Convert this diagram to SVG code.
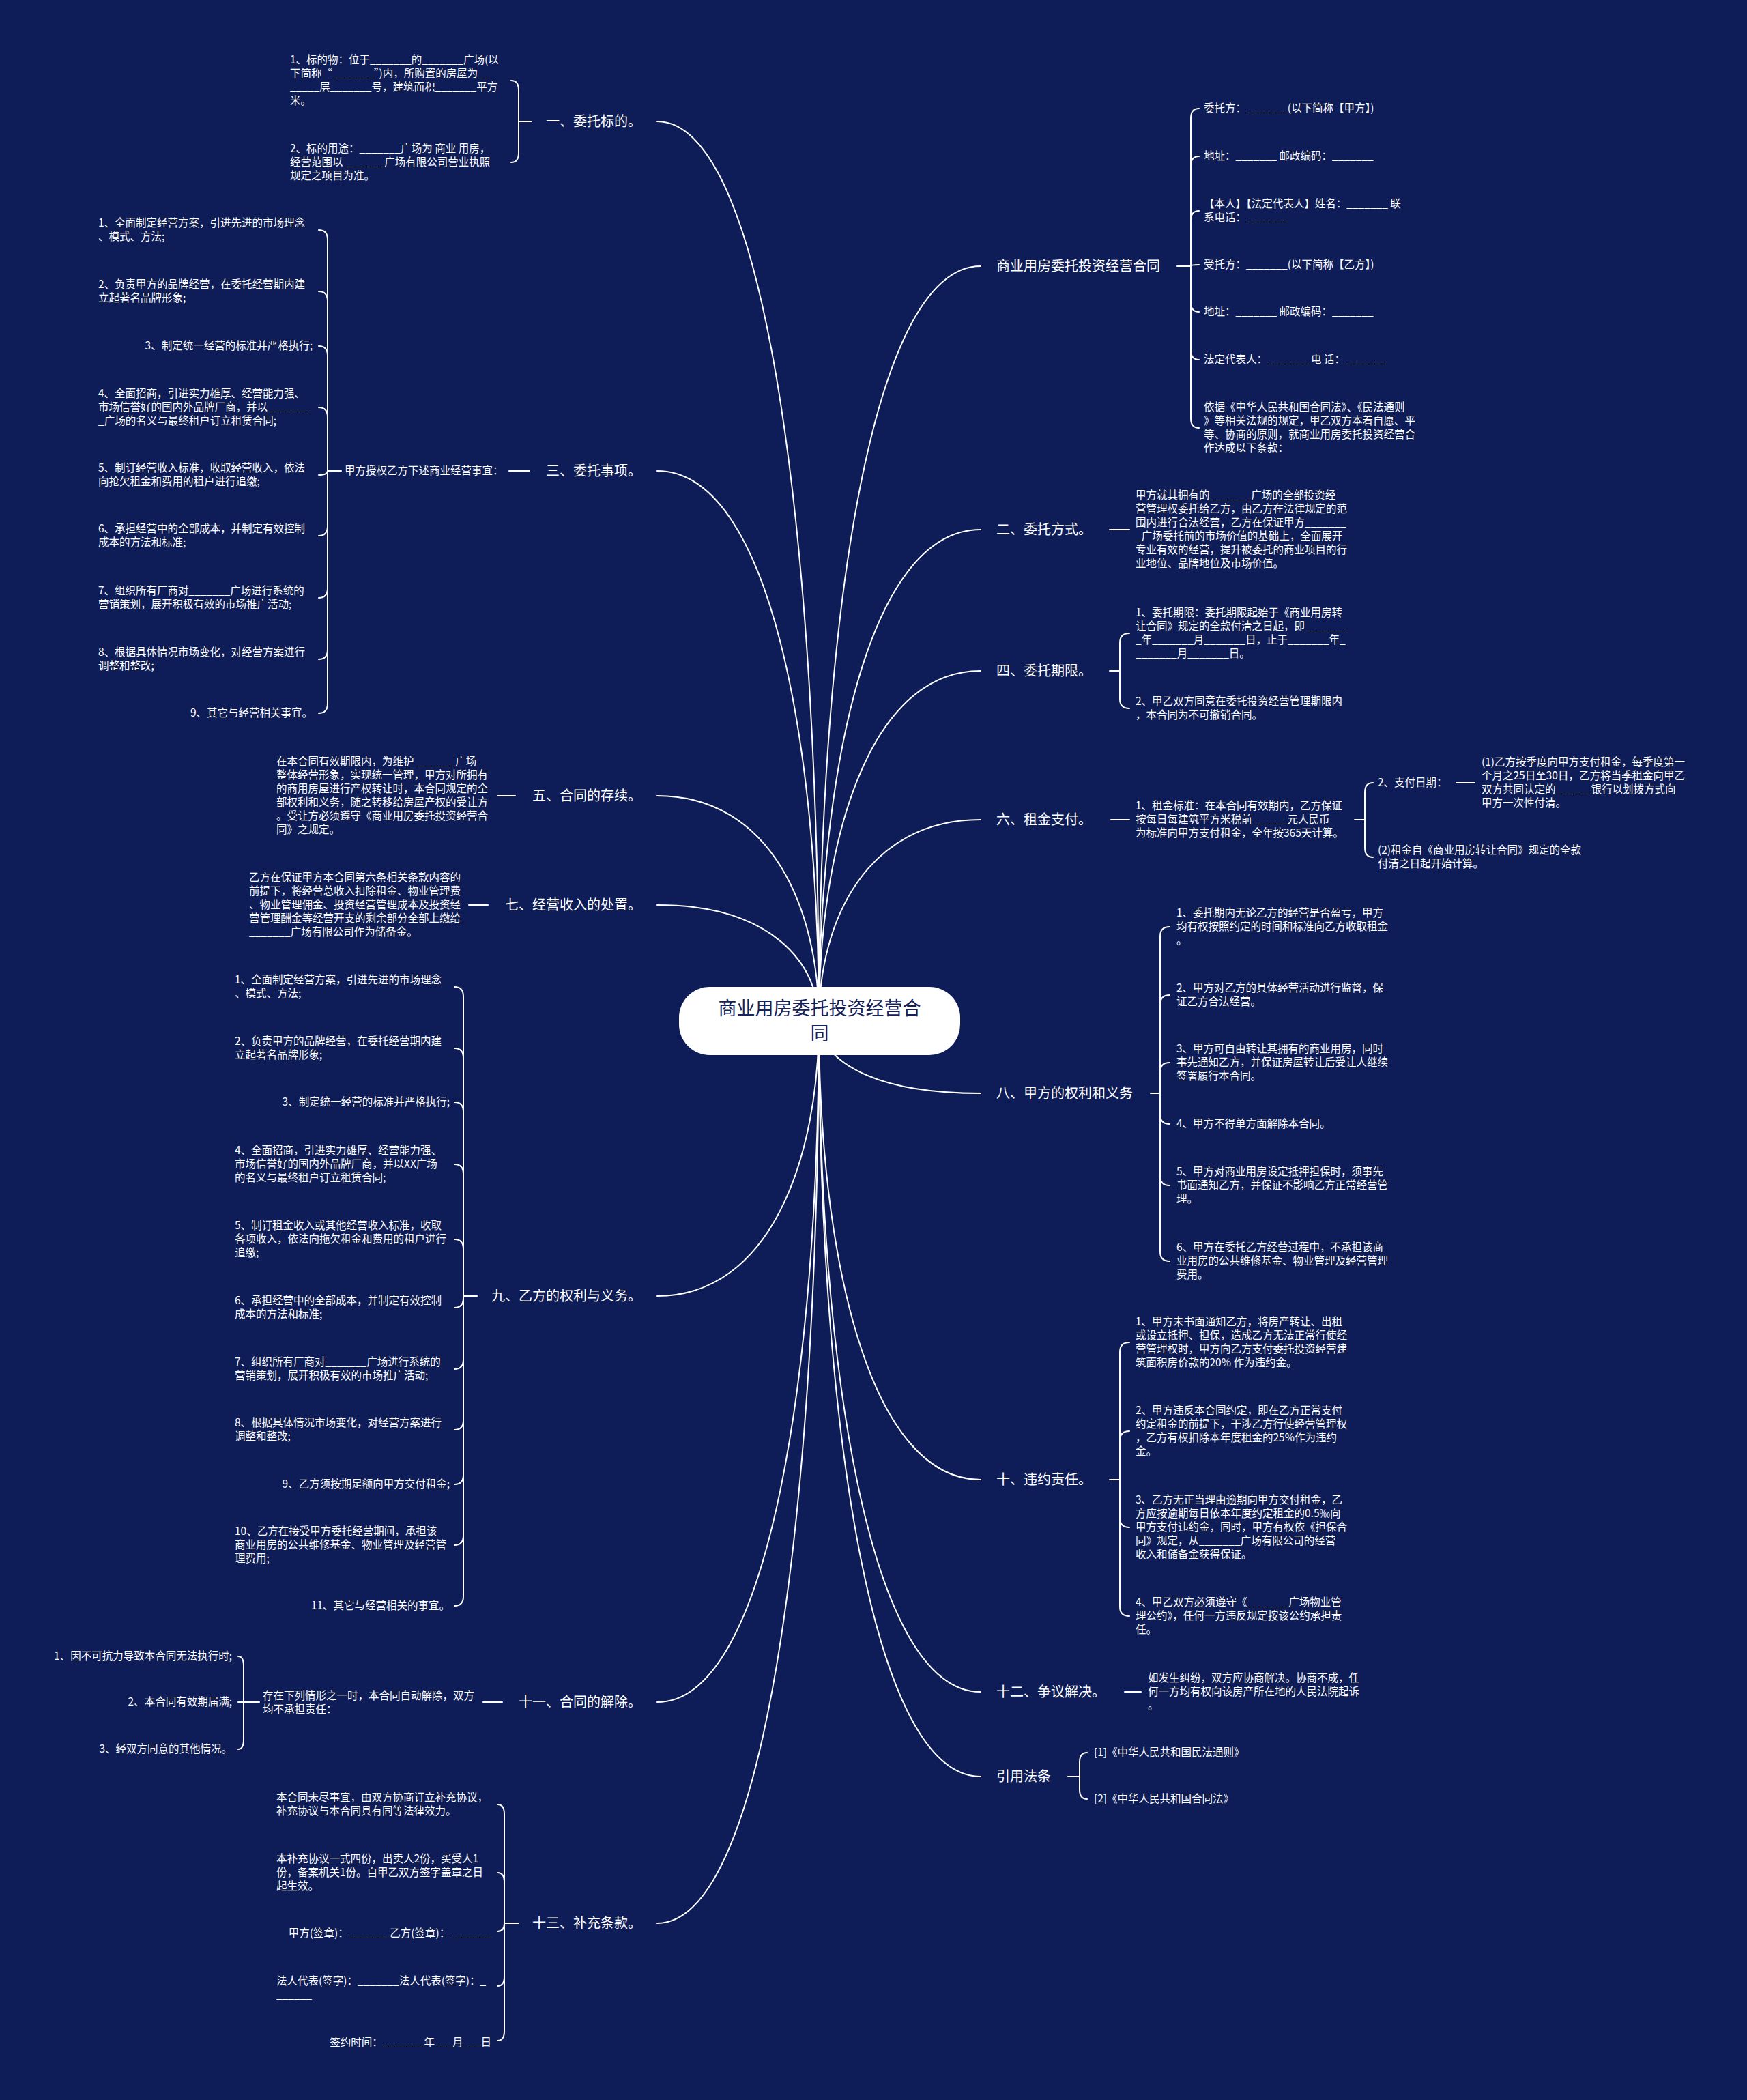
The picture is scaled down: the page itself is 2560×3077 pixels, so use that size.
<svg xmlns="http://www.w3.org/2000/svg" width="2560" height="3077" viewBox="0 0 2560 3077">
<defs>
<style>
.ln{fill:none;stroke:#ffffff;stroke-width:2;stroke-linecap:round}
.lbl{font-family:"Noto Sans CJK SC","Noto Sans",sans-serif;font-size:20px;fill:#ffffff}
.lf{font-family:"Noto Sans CJK SC","Noto Sans",sans-serif;font-size:15.5px;fill:#ffffff}
.e{text-anchor:end}
.root{font-family:"Noto Sans CJK SC","Noto Sans",sans-serif;font-size:27px;fill:#14215a;text-anchor:middle}
</style>
</defs>
<rect x="0" y="0" width="2560" height="3077" fill="#0e1d57"/>
<g id="connectors">
<path class="ln" d="M963,178 C1129,178 1200,837 1200,1496"/>
<path class="ln" d="M963,690 C1129,690 1200,1093 1200,1496"/>
<path class="ln" d="M963,1166 C1129,1166 1200,1331 1200,1496"/>
<path class="ln" d="M963,1326 C1129,1326 1200,1411 1200,1496"/>
<path class="ln" d="M963,1899 C1129,1899 1200,1697 1200,1496"/>
<path class="ln" d="M963,2494 C1129,2494 1200,1995 1200,1496"/>
<path class="ln" d="M963,2818 C1129,2818 1200,2157 1200,1496"/>
<path class="ln" d="M1437,390 C1271,390 1200,943 1200,1496"/>
<path class="ln" d="M1437,776 C1271,776 1200,1136 1200,1496"/>
<path class="ln" d="M1437,983 C1271,983 1200,1239 1200,1496"/>
<path class="ln" d="M1437,1201 C1271,1201 1200,1348 1200,1496"/>
<path class="ln" d="M1437,1602 C1271,1602 1200,1549 1200,1496"/>
<path class="ln" d="M1437,2168 C1271,2168 1200,1832 1200,1496"/>
<path class="ln" d="M1437,2479 C1271,2479 1200,1987 1200,1496"/>
<path class="ln" d="M1437,2603 C1271,2603 1200,2049 1200,1496"/>
<path class="ln" d="M779,178 H760 M760,178 V132 Q760,118 749,118 M760,178 V224 Q760,238 749,238"/>
<path class="ln" d="M746,690 H776"/>
<path class="ln" d="M500,690 H480 M480,690 V351 Q480,337 467,337 M480,690 V441 Q480,427 467,427 M480,690 V521 Q480,507 467,507 M480,690 V611 Q480,597 467,597 M480,690 Q480,696 467,696 M480,690 V771 Q480,785 467,785 M480,690 V862 Q480,876 467,876 M480,690 V952 Q480,966 467,966 M480,690 V1031 Q480,1045 467,1045"/>
<path class="ln" d="M729,1166 H755"/>
<path class="ln" d="M687,1326 H715"/>
<path class="ln" d="M699,1899 H679 M679,1899 V1460 Q679,1446 666,1446 M679,1899 V1550 Q679,1536 666,1536 M679,1899 V1629 Q679,1615 666,1615 M679,1899 V1720 Q679,1706 666,1706 M679,1899 V1830 Q679,1816 666,1816 M679,1899 V1902 Q679,1916 666,1916 M679,1899 V1992 Q679,2006 666,2006 M679,1899 V2081 Q679,2095 666,2095 M679,1899 V2161 Q679,2175 666,2175 M679,1899 V2250 Q679,2264 666,2264 M679,1899 V2339 Q679,2353 666,2353"/>
<path class="ln" d="M708,2494 H736"/>
<path class="ln" d="M380,2494 H357 M357,2494 V2441 Q357,2427 349,2427 M357,2494 H349 M357,2494 V2549 Q357,2563 349,2563"/>
<path class="ln" d="M760,2818 H739 M739,2818 V2658 Q739,2644 729,2644 M739,2818 V2758 Q739,2744 729,2744 M739,2818 Q739,2830 729,2830 M739,2818 V2896 Q739,2910 729,2910 M739,2818 V2976 Q739,2990 729,2990"/>
<path class="ln" d="M1725,390 H1745 M1745,390 V173 Q1745,159 1757,159 M1745,390 V243 Q1745,229 1757,229 M1745,390 V323 Q1745,309 1757,309 M1745,390 Q1745,388 1757,388 M1745,390 V443 Q1745,457 1757,457 M1745,390 V513 Q1745,527 1757,527 M1745,390 V613 Q1745,627 1757,627"/>
<path class="ln" d="M1626,776 H1655"/>
<path class="ln" d="M1626,983 H1641 M1641,983 V942 Q1641,928 1655,928 M1641,983 V1024 Q1641,1038 1655,1038"/>
<path class="ln" d="M1628,1201 H1655"/>
<path class="ln" d="M1985,1201 H2000 M2000,1201 V1161 Q2000,1147 2012,1147 M2000,1201 V1242 Q2000,1256 2012,1256"/>
<path class="ln" d="M2134,1147 H2161"/>
<path class="ln" d="M1686,1602 H1700 M1700,1602 V1372 Q1700,1358 1714,1358 M1700,1602 V1472 Q1700,1458 1714,1458 M1700,1602 V1571 Q1700,1557 1714,1557 M1700,1602 V1633 Q1700,1647 1714,1647 M1700,1602 V1723 Q1700,1737 1714,1737 M1700,1602 V1834 Q1700,1848 1714,1848"/>
<path class="ln" d="M1626,2168 H1641 M1641,2168 V1981 Q1641,1967 1655,1967 M1641,2168 V2111 Q1641,2097 1655,2097 M1641,2168 V2224 Q1641,2238 1655,2238 M1641,2168 V2354 Q1641,2368 1655,2368"/>
<path class="ln" d="M1648,2479 H1672"/>
<path class="ln" d="M1565,2603 H1582 M1582,2603 V2582 Q1582,2568 1593,2568 M1582,2603 V2622 Q1582,2636 1593,2636"/>
</g>
<g id="root">
<rect x="995" y="1446" width="412" height="100" rx="45" ry="45" fill="#ffffff"/>
<text class="root"><tspan x="1201" y="1487">商业用房委托投资经营合</tspan><tspan x="1201" y="1524">同</tspan></text>
</g>
<g id="b1"><text class="lbl e" x="940" y="185">一、委托标的。</text></g>
<g id="b1-1"><text class="lf"><tspan x="425" y="93">1、标的物：位于_______的_______广场(以</tspan><tspan x="425" y="113">下简称“_______”)内，所购置的房屋为__</tspan><tspan x="425" y="133">_____层_______号，建筑面积_______平方</tspan><tspan x="425" y="153">米。</tspan></text></g>
<g id="b1-2"><text class="lf"><tspan x="425" y="223">2、标的用途：_______广场为 商业 用房，</tspan><tspan x="425" y="243">经营范围以_______广场有限公司营业执照</tspan><tspan x="425" y="263">规定之项目为准。</tspan></text></g>
<g id="b3"><text class="lbl e" x="940" y="697">三、委托事项。</text></g>
<g id="b3-0"><text class="lf" x="505" y="695">甲方授权乙方下述商业经营事宜：</text></g>
<g id="b3-1"><text class="lf"><tspan x="144" y="332">1、全面制定经营方案，引进先进的市场理念</tspan><tspan x="144" y="352">、模式、方法;</tspan></text></g>
<g id="b3-2"><text class="lf"><tspan x="144" y="422">2、负责甲方的品牌经营，在委托经营期内建</tspan><tspan x="144" y="442">立起著名品牌形象;</tspan></text></g>
<g id="b3-3"><text class="lf e" x="458" y="512">3、制定统一经营的标准并严格执行;</text></g>
<g id="b3-4"><text class="lf"><tspan x="144" y="582">4、全面招商，引进实力雄厚、经营能力强、</tspan><tspan x="144" y="602">市场信誉好的国内外品牌厂商，并以_______</tspan><tspan x="144" y="622">_广场的名义与最终租户订立租赁合同;</tspan></text></g>
<g id="b3-5"><text class="lf"><tspan x="144" y="691">5、制订经营收入标准，收取经营收入，依法</tspan><tspan x="144" y="711">向抢欠租金和费用的租户进行追缴;</tspan></text></g>
<g id="b3-6"><text class="lf"><tspan x="144" y="780">6、承担经营中的全部成本，并制定有效控制</tspan><tspan x="144" y="800">成本的方法和标准;</tspan></text></g>
<g id="b3-7"><text class="lf"><tspan x="144" y="871">7、组织所有厂商对_______广场进行系统的</tspan><tspan x="144" y="891">营销策划，展开积极有效的市场推广活动;</tspan></text></g>
<g id="b3-8"><text class="lf"><tspan x="144" y="961">8、根据具体情况市场变化，对经营方案进行</tspan><tspan x="144" y="981">调整和整改;</tspan></text></g>
<g id="b3-9"><text class="lf e" x="458" y="1050">9、其它与经营相关事宜。</text></g>
<g id="b5"><text class="lbl e" x="940" y="1173">五、合同的存续。</text></g>
<g id="b5-1"><text class="lf"><tspan x="405" y="1121">在本合同有效期限内，为维护_______广场</tspan><tspan x="405" y="1141">整体经营形象，实现统一管理，甲方对所拥有</tspan><tspan x="405" y="1161">的商用房屋进行产权转让时，本合同规定的全</tspan><tspan x="405" y="1181">部权利和义务，随之转移给房屋产权的受让方</tspan><tspan x="405" y="1201">。受让方必须遵守《商业用房委托投资经营合</tspan><tspan x="405" y="1221">同》之规定。</tspan></text></g>
<g id="b7"><text class="lbl e" x="940" y="1333">七、经营收入的处置。</text></g>
<g id="b7-1"><text class="lf"><tspan x="365" y="1291">乙方在保证甲方本合同第六条相关条款内容的</tspan><tspan x="365" y="1311">前提下，将经营总收入扣除租金、物业管理费</tspan><tspan x="365" y="1331">、物业管理佣金、投资经营管理成本及投资经</tspan><tspan x="365" y="1351">营管理酬金等经营开支的剩余部分全部上缴给</tspan><tspan x="365" y="1371">_______广场有限公司作为储备金。</tspan></text></g>
<g id="b9"><text class="lbl e" x="940" y="1906">九、乙方的权利与义务。</text></g>
<g id="b9-1"><text class="lf"><tspan x="344" y="1441">1、全面制定经营方案，引进先进的市场理念</tspan><tspan x="344" y="1461">、模式、方法;</tspan></text></g>
<g id="b9-2"><text class="lf"><tspan x="344" y="1531">2、负责甲方的品牌经营，在委托经营期内建</tspan><tspan x="344" y="1551">立起著名品牌形象;</tspan></text></g>
<g id="b9-3"><text class="lf e" x="659" y="1620">3、制定统一经营的标准并严格执行;</text></g>
<g id="b9-4"><text class="lf"><tspan x="344" y="1691">4、全面招商，引进实力雄厚、经营能力强、</tspan><tspan x="344" y="1711">市场信誉好的国内外品牌厂商，并以XX广场</tspan><tspan x="344" y="1731">的名义与最终租户订立租赁合同;</tspan></text></g>
<g id="b9-5"><text class="lf"><tspan x="344" y="1801">5、制订租金收入或其他经营收入标准，收取</tspan><tspan x="344" y="1821">各项收入，依法向拖欠租金和费用的租户进行</tspan><tspan x="344" y="1841">追缴;</tspan></text></g>
<g id="b9-6"><text class="lf"><tspan x="344" y="1911">6、承担经营中的全部成本，并制定有效控制</tspan><tspan x="344" y="1931">成本的方法和标准;</tspan></text></g>
<g id="b9-7"><text class="lf"><tspan x="344" y="2001">7、组织所有厂商对_______广场进行系统的</tspan><tspan x="344" y="2021">营销策划，展开积极有效的市场推广活动;</tspan></text></g>
<g id="b9-8"><text class="lf"><tspan x="344" y="2090">8、根据具体情况市场变化，对经营方案进行</tspan><tspan x="344" y="2110">调整和整改;</tspan></text></g>
<g id="b9-9"><text class="lf e" x="659" y="2180">9、乙方须按期足额向甲方交付租金;</text></g>
<g id="b9-10"><text class="lf"><tspan x="344" y="2249">10、乙方在接受甲方委托经营期间，承担该</tspan><tspan x="344" y="2269">商业用房的公共维修基金、物业管理及经营管</tspan><tspan x="344" y="2289">理费用;</tspan></text></g>
<g id="b9-11"><text class="lf e" x="659" y="2358">11、其它与经营相关的事宜。</text></g>
<g id="b11"><text class="lbl e" x="940" y="2501">十一、合同的解除。</text></g>
<g id="b11-0"><text class="lf"><tspan x="385" y="2490">存在下列情形之一时，本合同自动解除，双方</tspan><tspan x="385" y="2510">均不承担责任：</tspan></text></g>
<g id="b11-1"><text class="lf e" x="340" y="2432">1、因不可抗力导致本合同无法执行时;</text></g>
<g id="b11-2"><text class="lf e" x="340" y="2499">2、本合同有效期届满;</text></g>
<g id="b11-3"><text class="lf e" x="340" y="2568">3、经双方同意的其他情况。</text></g>
<g id="b13"><text class="lbl e" x="940" y="2825">十三、补充条款。</text></g>
<g id="b13-1"><text class="lf"><tspan x="405" y="2639">本合同未尽事宜，由双方协商订立补充协议，</tspan><tspan x="405" y="2659">补充协议与本合同具有同等法律效力。</tspan></text></g>
<g id="b13-2"><text class="lf"><tspan x="405" y="2729">本补充协议一式四份，出卖人2份，买受人1</tspan><tspan x="405" y="2749">份，备案机关1份。自甲乙双方签字盖章之日</tspan><tspan x="405" y="2769">起生效。</tspan></text></g>
<g id="b13-3"><text class="lf e" x="720" y="2838">甲方(签章)：_______乙方(签章)：_______</text></g>
<g id="b13-4"><text class="lf"><tspan x="405" y="2908">法人代表(签字)：_______法人代表(签字)：_</tspan><tspan x="405" y="2928">______</tspan></text></g>
<g id="b13-5"><text class="lf e" x="720" y="2998">签约时间：_______年___月___日</text></g>
<g id="r0"><text class="lbl" x="1460" y="397">商业用房委托投资经营合同</text></g>
<g id="r0-1"><text class="lf" x="1764" y="164">委托方：_______(以下简称【甲方】)</text></g>
<g id="r0-2"><text class="lf" x="1764" y="234">地址：_______ 邮政编码：_______</text></g>
<g id="r0-3"><text class="lf"><tspan x="1764" y="304">【本人】【法定代表人】姓名：_______ 联</tspan><tspan x="1764" y="324">系电话：_______</tspan></text></g>
<g id="r0-4"><text class="lf" x="1764" y="393">受托方：_______(以下简称【乙方】)</text></g>
<g id="r0-5"><text class="lf" x="1764" y="462">地址：_______ 邮政编码：_______</text></g>
<g id="r0-6"><text class="lf" x="1764" y="532">法定代表人：_______ 电 话：_______</text></g>
<g id="r0-7"><text class="lf"><tspan x="1764" y="602">依据《中华人民共和国合同法》、《民法通则</tspan><tspan x="1764" y="622">》等相关法规的规定，甲乙双方本着自愿、平</tspan><tspan x="1764" y="642">等、协商的原则，就商业用房委托投资经营合</tspan><tspan x="1764" y="662">作达成以下条款：</tspan></text></g>
<g id="r2"><text class="lbl" x="1460" y="783">二、委托方式。</text></g>
<g id="r2-1"><text class="lf"><tspan x="1664" y="731">甲方就其拥有的_______广场的全部投资经</tspan><tspan x="1664" y="751">营管理权委托给乙方，由乙方在法律规定的范</tspan><tspan x="1664" y="771">围内进行合法经营，乙方在保证甲方_______</tspan><tspan x="1664" y="791">_广场委托前的市场价值的基础上，全面展开</tspan><tspan x="1664" y="811">专业有效的经营，提升被委托的商业项目的行</tspan><tspan x="1664" y="831">业地位、品牌地位及市场价值。</tspan></text></g>
<g id="r4"><text class="lbl" x="1460" y="990">四、委托期限。</text></g>
<g id="r4-1"><text class="lf"><tspan x="1664" y="903">1、委托期限：委托期限起始于《商业用房转</tspan><tspan x="1664" y="923">让合同》规定的全款付清之日起，即_______</tspan><tspan x="1664" y="943">_年_______月_______日，止于_______年_</tspan><tspan x="1664" y="963">_______月_______日。</tspan></text></g>
<g id="r4-2"><text class="lf"><tspan x="1664" y="1033">2、甲乙双方同意在委托投资经营管理期限内</tspan><tspan x="1664" y="1053">，本合同为不可撤销合同。</tspan></text></g>
<g id="r6"><text class="lbl" x="1460" y="1208">六、租金支付。</text></g>
<g id="r6-1"><text class="lf"><tspan x="1664" y="1186">1、租金标准：在本合同有效期内，乙方保证</tspan><tspan x="1664" y="1206">按每日每建筑平方米税前______元人民币</tspan><tspan x="1664" y="1226">为标准向甲方支付租金，全年按365天计算。</tspan></text></g>
<g id="r6-2"><text class="lf" x="2019" y="1152">2、支付日期：</text></g>
<g id="r6-2-1"><text class="lf"><tspan x="2171" y="1122">(1)乙方按季度向甲方支付租金，每季度第一</tspan><tspan x="2171" y="1142">个月之25日至30日，乙方将当季租金向甲乙</tspan><tspan x="2171" y="1162">双方共同认定的______银行以划拨方式向</tspan><tspan x="2171" y="1182">甲方一次性付清。</tspan></text></g>
<g id="r6-3"><text class="lf"><tspan x="2019" y="1251">(2)租金自《商业用房转让合同》规定的全款</tspan><tspan x="2019" y="1271">付清之日起开始计算。</tspan></text></g>
<g id="r8"><text class="lbl" x="1460" y="1609">八、甲方的权利和义务</text></g>
<g id="r8-1"><text class="lf"><tspan x="1724" y="1343">1、委托期内无论乙方的经营是否盈亏，甲方</tspan><tspan x="1724" y="1363">均有权按照约定的时间和标准向乙方收取租金</tspan><tspan x="1724" y="1383">。</tspan></text></g>
<g id="r8-2"><text class="lf"><tspan x="1724" y="1453">2、甲方对乙方的具体经营活动进行监督，保</tspan><tspan x="1724" y="1473">证乙方合法经营。</tspan></text></g>
<g id="r8-3"><text class="lf"><tspan x="1724" y="1542">3、甲方可自由转让其拥有的商业用房，同时</tspan><tspan x="1724" y="1562">事先通知乙方，并保证房屋转让后受让人继续</tspan><tspan x="1724" y="1582">签署履行本合同。</tspan></text></g>
<g id="r8-4"><text class="lf" x="1724" y="1652">4、甲方不得单方面解除本合同。</text></g>
<g id="r8-5"><text class="lf"><tspan x="1724" y="1722">5、甲方对商业用房设定抵押担保时，须事先</tspan><tspan x="1724" y="1742">书面通知乙方，并保证不影响乙方正常经营管</tspan><tspan x="1724" y="1762">理。</tspan></text></g>
<g id="r8-6"><text class="lf"><tspan x="1724" y="1833">6、甲方在委托乙方经营过程中，不承担该商</tspan><tspan x="1724" y="1853">业用房的公共维修基金、物业管理及经营管理</tspan><tspan x="1724" y="1873">费用。</tspan></text></g>
<g id="r10"><text class="lbl" x="1460" y="2175">十、违约责任。</text></g>
<g id="r10-1"><text class="lf"><tspan x="1664" y="1942">1、甲方未书面通知乙方，将房产转让、出租</tspan><tspan x="1664" y="1962">或设立抵押、担保，造成乙方无法正常行使经</tspan><tspan x="1664" y="1982">营管理权时，甲方向乙方支付委托投资经营建</tspan><tspan x="1664" y="2002">筑面积房价款的20% 作为违约金。</tspan></text></g>
<g id="r10-2"><text class="lf"><tspan x="1664" y="2072">2、甲方违反本合同约定，即在乙方正常支付</tspan><tspan x="1664" y="2092">约定租金的前提下，干涉乙方行使经营管理权</tspan><tspan x="1664" y="2112">，乙方有权扣除本年度租金的25%作为违约</tspan><tspan x="1664" y="2132">金。</tspan></text></g>
<g id="r10-3"><text class="lf"><tspan x="1664" y="2203">3、乙方无正当理由逾期向甲方交付租金，乙</tspan><tspan x="1664" y="2223">方应按逾期每日依本年度约定租金的0.5‰向</tspan><tspan x="1664" y="2243">甲方支付违约金，同时，甲方有权依《担保合</tspan><tspan x="1664" y="2263">同》规定，从_______广场有限公司的经营</tspan><tspan x="1664" y="2283">收入和储备金获得保证。</tspan></text></g>
<g id="r10-4"><text class="lf"><tspan x="1664" y="2353">4、甲乙双方必须遵守《_______广场物业管</tspan><tspan x="1664" y="2373">理公约》，任何一方违反规定按该公约承担责</tspan><tspan x="1664" y="2393">任。</tspan></text></g>
<g id="r12"><text class="lbl" x="1460" y="2486">十二、争议解决。</text></g>
<g id="r12-1"><text class="lf"><tspan x="1682" y="2464">如发生纠纷，双方应协商解决。协商不成，任</tspan><tspan x="1682" y="2484">何一方均有权向该房产所在地的人民法院起诉</tspan><tspan x="1682" y="2504">。</tspan></text></g>
<g id="r14"><text class="lbl" x="1460" y="2610">引用法条</text></g>
<g id="r14-1"><text class="lf" x="1603" y="2573">[1]《中华人民共和国民法通则》</text></g>
<g id="r14-2"><text class="lf" x="1603" y="2641">[2]《中华人民共和国合同法》</text></g>
</svg>
